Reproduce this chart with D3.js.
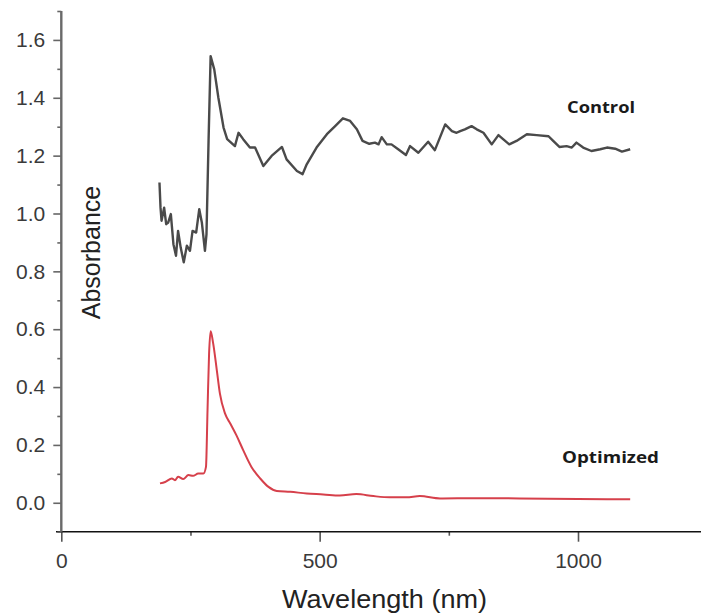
<!DOCTYPE html>
<html>
<head>
<meta charset="utf-8">
<script src="https://cdn.jsdelivr.net/npm/d3@7"></script>
<style>
  body { margin: 0; background: #fff; }
  svg { display: block; }
</style>
</head>
<body>
<div id="chart"></div>
<script>
    // absorbance spectra
    var controlNm = [190, 192, 194, 199, 203, 207, 212, 217, 222, 226, 231, 237, 243, 249, 254, 261, 267, 272, 278, 281, 285, 289, 296, 304, 314, 321, 336, 343, 352, 365, 375, 391, 407, 427, 436, 456, 467, 475, 494, 514, 530, 545, 559, 572, 583, 596, 607, 614, 620, 630, 639, 652, 667, 675, 691, 710, 723, 743, 756, 765, 772, 781, 794, 804, 817, 833, 846, 855, 867, 881, 901, 920, 943, 952, 964, 978, 988, 997, 1010, 1026, 1043, 1056, 1072, 1085, 1101]
    var controlAbs = [1.107, 1.021, 0.975, 1.02, 0.963, 0.969, 0.998, 0.894, 0.854, 0.94, 0.883, 0.831, 0.889, 0.871, 0.94, 0.934, 1.015, 0.969, 0.871, 0.929, 1.251, 1.544, 1.498, 1.4, 1.297, 1.257, 1.233, 1.279, 1.257, 1.228, 1.228, 1.164, 1.199, 1.23, 1.187, 1.147, 1.136, 1.17, 1.228, 1.274, 1.302, 1.329, 1.32, 1.291, 1.251, 1.241, 1.245, 1.239, 1.264, 1.239, 1.239, 1.222, 1.202, 1.233, 1.21, 1.248, 1.219, 1.308, 1.285, 1.279, 1.285, 1.291, 1.302, 1.291, 1.279, 1.239, 1.271, 1.257, 1.239, 1.251, 1.274, 1.271, 1.267, 1.251, 1.23, 1.233, 1.228, 1.245, 1.228, 1.216, 1.222, 1.228, 1.224, 1.214, 1.222]

    var optNm = [191, 201, 214, 220, 226, 236, 246, 255, 265, 275, 280, 283, 286, 289, 294, 301, 307, 317, 327, 339, 352, 368, 385, 401, 417, 443, 475, 507, 539, 571, 604, 636, 668, 694, 733, 800, 887, 1000, 1101]
    var optAbs = [0.067, 0.072, 0.084, 0.078, 0.09, 0.082, 0.096, 0.093, 0.101, 0.101, 0.124, 0.32, 0.515, 0.593, 0.55, 0.458, 0.377, 0.308, 0.274, 0.233, 0.182, 0.124, 0.084, 0.055, 0.041, 0.038, 0.032, 0.029, 0.025, 0.03, 0.023, 0.019, 0.019, 0.023, 0.015, 0.016, 0.015, 0.013, 0.012]

    var xMajor = [0, 500, 1000]
    var xMinor = [250, 750, 1250]
    var yMajor = [0, 0.2, 0.4, 0.6, 0.8, 1.0, 1.2, 1.4, 1.6]
    var yMinor = [-0.1, 0.1, 0.3, 0.5, 0.7, 0.9, 1.1, 1.3, 1.5, 1.7]

    var width = 701, height = 616

    var svg = d3.select("#chart").append("svg")
        .attr("width", width)
        .attr("height", height)

    var x = d3.scaleLinear().domain([0, 1000]).range([61.3, 578])
    var y = d3.scaleLinear().domain([-0.1, 1.7]).range([531.7, 11])

    var tickFont = "Liberation Sans, Arial, sans-serif"

    // x axis
    var xg = svg.append("g").attr("transform", `translate(0,${y(-0.1)})`)
    xg.append("g")
        .call(d3.axisBottom(x).tickValues(xMinor).tickSize(4).tickFormat(""))
        .call(g => g.select(".domain").remove())
    xg.append("g")
        .call(d3.axisBottom(x).tickValues(xMajor).tickSize(10).tickFormat(d3.format("d")))
        .call(g => g.select(".domain").remove())
    xg.selectAll(".tick line").attr("stroke", "#555").attr("stroke-width", 1.6)
    xg.selectAll(".tick text")
        .attr("y", 36).attr("dy", 0)
        .attr("font-family", tickFont).attr("font-size", 21).attr("fill", "#3a3a3a")
    xg.append("line")
        .attr("x1", 56).attr("x2", width)
        .attr("stroke", "#111").attr("stroke-width", 1.6)

    // y axis
    var yg = svg.append("g").attr("transform", `translate(${x(0)},0)`)
    yg.append("g")
        .call(d3.axisLeft(y).tickValues(yMinor).tickSize(4).tickFormat(""))
        .call(g => g.select(".domain").remove())
    yg.append("g")
        .call(d3.axisLeft(y).tickValues(yMajor).tickSize(8).tickFormat(d3.format(".1f")))
        .call(g => g.select(".domain").remove())
    yg.selectAll(".tick line").attr("stroke", "#666").attr("stroke-width", 1.6)
    yg.selectAll(".tick text")
        .attr("x", -16)
        .attr("font-family", tickFont).attr("font-size", 21).attr("fill", "#3a3a3a")
    yg.append("line")
        .attr("y1", y(1.7)).attr("y2", y(-0.1))
        .attr("stroke", "#6a6a6a").attr("stroke-width", 2.4)

    // axis titles
    svg.append("text")
        .attr("x", 384.5).attr("y", 608)
        .attr("text-anchor", "middle")
        .attr("font-family", tickFont).attr("font-size", 25).attr("fill", "#222")
        .attr("textLength", 205).attr("lengthAdjust", "spacingAndGlyphs")
        .text("Wavelength (nm)")
    svg.append("text")
        .attr("transform", "translate(100,252.5) rotate(-90)")
        .attr("text-anchor", "middle")
        .attr("font-family", tickFont).attr("font-size", 25).attr("fill", "#222")
        .text("Absorbance")

    // spectra
    var control = controlNm.map((d, i) => ({nm: d, a: controlAbs[i]}))
    var optimized = optNm.map((d, i) => ({nm: d, a: optAbs[i]}))
    var line = d3.line().x(d => x(d.nm)).y(d => y(d.a))
    var smooth = d3.line().x(d => x(d.nm)).y(d => y(d.a)).curve(d3.curveMonotoneX)

    svg.append("path").datum(control)
        .attr("d", line)
        .attr("fill", "none").attr("stroke", "#4a4a4a")
        .attr("stroke-width", 2.4).attr("stroke-linejoin", "round")
    svg.append("path").datum(optimized)
        .attr("d", smooth)
        .attr("fill", "none").attr("stroke", "#d6404b")
        .attr("stroke-width", 2).attr("stroke-linejoin", "round")

    // series labels
    var labelFont = "Open Sans, Noto Sans, sans-serif"
    svg.append("text")
        .attr("x", 567).attr("y", 113)
        .attr("font-family", labelFont).attr("font-weight", "bold")
        .attr("font-size", 16.5).attr("fill", "#1a1a1a")
        .attr("textLength", 68).attr("lengthAdjust", "spacingAndGlyphs")
        .text("Control")
    svg.append("text")
        .attr("x", 562).attr("y", 463)
        .attr("font-family", labelFont).attr("font-weight", "bold")
        .attr("font-size", 16.5).attr("fill", "#1a1a1a")
        .attr("textLength", 97).attr("lengthAdjust", "spacingAndGlyphs")
        .text("Optimized")
</script>
</body>
</html>
